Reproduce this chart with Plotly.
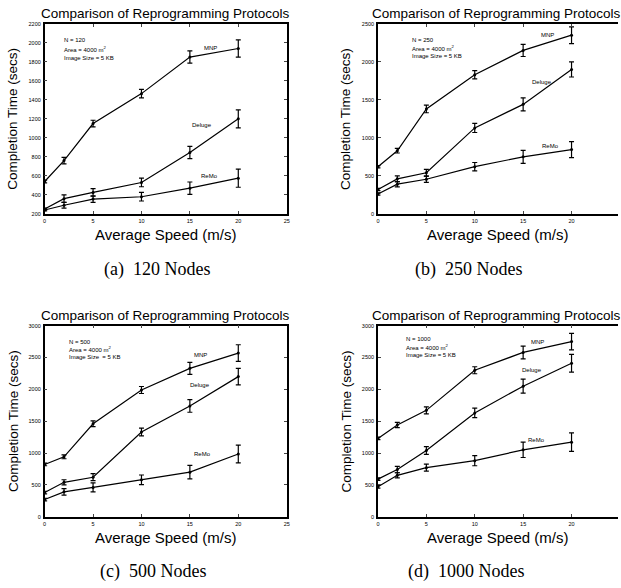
import plotly.graph_objects as go

speeds = [0, 2, 5, 10, 15, 20]
series_names = ["MNP", "Deluge", "ReMo"]

# Panel (a) N = 120
a_mnp = [540, 760, 1150, 1465, 1850, 1940]
a_mnp_err = [15, 35, 35, 45, 65, 90]
a_del = [250, 360, 425, 530, 845, 1200]
a_del_err = [10, 40, 40, 45, 65, 95]
a_remo = [240, 290, 355, 380, 470, 575]
a_remo_err = [10, 30, 35, 45, 65, 95]

# Panel (b) N = 250
b_mnp = [620, 830, 1380, 1830, 2150, 2350]
b_mnp_err = [15, 30, 50, 55, 80, 110]
b_del = [320, 460, 540, 1130, 1440, 1900]
b_del_err = [15, 40, 45, 60, 85, 100]
b_remo = [260, 390, 455, 620, 750, 845]
b_remo_err = [15, 35, 40, 55, 85, 105]

# Panel (c) N = 500
c_mnp = [820, 940, 1460, 1990, 2330, 2570]
c_mnp_err = [20, 30, 45, 55, 95, 130]
c_del = [380, 540, 620, 1330, 1740, 2200]
c_del_err = [20, 40, 55, 60, 100, 130]
c_remo = [270, 390, 460, 580, 700, 985]
c_remo_err = [20, 50, 70, 75, 105, 140]

# Panel (d) N = 1000
d_mnp = [1230, 1440, 1670, 2300, 2580, 2750]
d_mnp_err = [20, 40, 55, 55, 100, 130]
d_del = [590, 740, 1040, 1630, 2050, 2410]
d_del_err = [20, 50, 60, 75, 110, 140]
d_remo = [470, 650, 770, 880, 1050, 1170]
d_remo_err = [20, 40, 55, 80, 120, 145]

x_ticks = [0, 5, 10, 15, 20, 25]
title_text = "Comparison of Reprogramming Protocols"
xlabel = "Average Speed (m/s)"
ylabel = "Completion Time (secs)"
captions = ["(a)\u00a0 120 Nodes", "(b)\u00a0 250 Nodes", "(c)\u00a0 500 Nodes", "(d)\u00a0 1000 Nodes"]
node_counts = [120, 250, 500, 1000]

panels = [
    dict(data=[(a_mnp, a_mnp_err), (a_del, a_del_err), (a_remo, a_remo_err)],
         yrange=[200, 2200], ytick=list(range(200, 2201, 200)), xrange=[0, 25],
         xdom=[43/621, 287/621], ydom=[(588-213)/588, (588-21)/588],
         info=(0.07, [0.917, 0.865, 0.818]),
         labels=[(17.1, 1940), (16.3, 1137), (17.0, 596)],
         clipped=False),
    dict(data=[(b_mnp, b_mnp_err), (b_del, b_del_err), (b_remo, b_remo_err)],
         yrange=[0, 2500], ytick=list(range(0, 2501, 500)), xrange=[0, 24.8],
         xdom=[379/621, 1.0], ydom=[(588-213)/588, (588-21)/588],
         info=(0.135, [0.913, 0.871, 0.829]),
         labels=[(17.5, 2350), (17.0, 1730), (17.8, 891)],
         clipped=True),
    dict(data=[(c_mnp, c_mnp_err), (c_del, c_del_err), (c_remo, c_remo_err)],
         yrange=[0, 3000], ytick=list(range(0, 3001, 500)), xrange=[0, 25],
         xdom=[43/621, 287/621], ydom=[(588-519)/588, (588-326)/588],
         info=(0.094, [0.917, 0.876, 0.834]),
         labels=[(16.1, 2534), (16.0, 2062), (16.3, 979)],
         clipped=False),
    dict(data=[(d_mnp, d_mnp_err), (d_del, d_del_err), (d_remo, d_remo_err)],
         yrange=[0, 3000], ytick=list(range(0, 3001, 500)), xrange=[0, 24.8],
         xdom=[379/621, 1.0], ydom=[(588-519)/588, (588-326)/588],
         info=(0.107, [0.929, 0.888, 0.845]),
         labels=[(16.5, 2751), (15.9, 2300), (16.4, 1212)],
         clipped=True),
]

fig = go.Figure()
annotations = []
layout = dict(width=621, height=588, margin=dict(l=0, r=0, t=0, b=0),
              paper_bgcolor="white", plot_bgcolor="white", showlegend=False,
              font=dict(family="Liberation Sans, Arial, sans-serif", color="black"))

caption_pos = [(156, 269), (470, 269), (152, 574), (468, 574)]

for i, p in enumerate(panels):
    n = i + 1
    xa = "x" if n == 1 else f"x{n}"
    ya = "y" if n == 1 else f"y{n}"
    xkey = "xaxis" if n == 1 else f"xaxis{n}"
    ykey = "yaxis" if n == 1 else f"yaxis{n}"
    for (vals, errs), name in zip(p["data"], series_names):
        fig.add_trace(go.Scatter(
            x=speeds, y=vals, xaxis=xa, yaxis=ya, name=name,
            mode="lines+markers",
            line=dict(color="black", width=1.2),
            marker=dict(color="black", size=3),
            error_y=dict(type="data", array=errs, visible=True, color="black",
                         thickness=1.2, width=2.5),
            cliponaxis=False,
        ))
    layout[xkey] = dict(domain=p["xdom"], anchor=ya, range=p["xrange"],
                        tickvals=x_ticks, ticks="inside", ticklen=3,
                        showline=True, linecolor="black", linewidth=1.5,
                        mirror="ticks", showgrid=False, zeroline=False,
                        tickfont=dict(size=5.5), ticklabelstandoff=1)
    layout[ykey] = dict(domain=p["ydom"], anchor=xa, range=p["yrange"],
                        tickvals=p["ytick"], ticks="inside", ticklen=3,
                        showline=True, linecolor="black", linewidth=1.5,
                        mirror=False if p["clipped"] else "ticks",
                        showgrid=False, zeroline=False,
                        tickfont=dict(size=5.5), ticklabelstandoff=1)
    xref_dom = f"{xa} domain"
    yref_dom = f"{ya} domain"
    # title (centered on the visible part so it is not cut at the page edge)
    annotations.append(dict(text=title_text, xref=xref_dom, yref=yref_dom,
                            x=0.5 if not p["clipped"] else 0.492, y=1.0, yshift=1,
                            xanchor="center", yanchor="bottom",
                            showarrow=False, font=dict(size=13.5)))
    # x label
    annotations.append(dict(text=xlabel, xref=xref_dom, yref=yref_dom,
                            x=0.5, y=0, yshift=-10, xanchor="center", yanchor="top",
                            showarrow=False, font=dict(size=15)))
    # y label
    x0_px = p["xdom"][0] * 621
    annotations.append(dict(text=ylabel, xref="paper", yref=yref_dom,
                            x=(x0_px - 32) / 621, y=0.5, xanchor="center", yanchor="middle",
                            textangle=-90, showarrow=False, font=dict(size=13.5)))
    # info text
    ix, iys = p["info"]
    info_lines = [f"N = {node_counts[i]}", "Area = 4000 m<sup>2</sup>",
                  "Image Size = 5 KB" if i != 2 else "Image Size\u00a0 = 5 KB"]
    for line, iy in zip(info_lines, iys):
        annotations.append(dict(text=line, xref=xref_dom, yref=yref_dom,
                                x=ix, y=iy, xanchor="left", yanchor="middle",
                                showarrow=False, font=dict(size=6)))
    # series labels
    for (lx, ly), name in zip(p["labels"], series_names):
        annotations.append(dict(text=name, xref=xa, yref=ya, x=lx, y=ly,
                                xanchor="center", yanchor="middle",
                                showarrow=False, font=dict(size=6)))
    # caption
    cx, cy = caption_pos[i]
    annotations.append(dict(text=captions[i], xref="paper", yref="paper",
                            x=cx / 621, y=1 - cy / 588, xanchor="center", yanchor="middle",
                            showarrow=False,
                            font=dict(size=18, family="Liberation Serif, Times New Roman, serif")))

layout["annotations"] = annotations
fig.update_layout(**layout)
fig.write_html("out.html", config={"displayModeBar": False},
               post_script="document.body.style.margin='0';document.body.style.overflow='hidden';")
